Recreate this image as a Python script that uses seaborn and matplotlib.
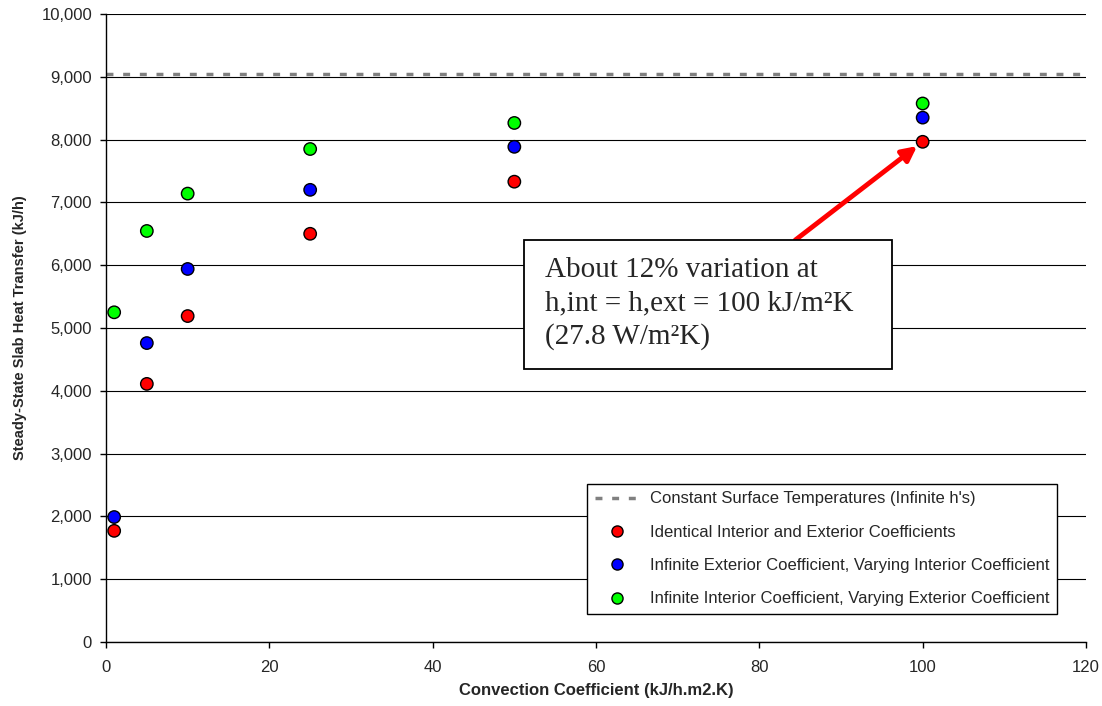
import numpy as np
import pandas as pd
import matplotlib
matplotlib.use('Agg')
import matplotlib.pyplot as plt
from matplotlib.lines import Line2D
from matplotlib.patches import Rectangle
from matplotlib.ticker import FuncFormatter
import seaborn as sns

# data
h_values = [1, 5, 10, 25, 50, 100]
identical = [1770, 4110, 5190, 6500, 7330, 7965]
inf_exterior = [1990, 4760, 5940, 7200, 7885, 8350]
inf_interior = [5250, 6545, 7140, 7850, 8265, 8575]
constant_surface = 9050

series_names = ['Identical Interior and Exterior Coefficients',
                'Infinite Exterior Coefficient, Varying Interior Coefficient',
                'Infinite Interior Coefficient, Varying Exterior Coefficient']
series_colors = ['#ff0000', '#0000ff', '#00ff00']

df = pd.DataFrame({
    'h': h_values * 3,
    'q': identical + inf_exterior + inf_interior,
    'series': np.repeat(series_names, len(h_values)),
})

sns.set_style('white')
plt.rcParams['font.family'] = ['Liberation Sans', 'DejaVu Sans']

fig = plt.figure(figsize=(11.02, 7.06), dpi=100)
ax = fig.add_axes([106 / 1102, 64 / 706, 980 / 1102, 628 / 706])

ax.set_xlim(0, 120)
ax.set_ylim(0, 10000)
ax.set_xticks(range(0, 121, 20))
ax.set_yticks(range(0, 10001, 1000))
ax.yaxis.set_major_formatter(FuncFormatter(lambda v, p: f'{int(v):,}'))
ax.grid(axis='y', color='black', linewidth=0.8)
ax.set_axisbelow(True)

dash = (0, (2.0, 2.8))
ax.axhline(constant_surface, color='#808080', linestyle=dash, linewidth=2.5, zorder=2)

sns.scatterplot(data=df, x='h', y='q', hue='series', palette=dict(zip(series_names, series_colors)),
                s=80, edgecolor='black', linewidth=1.0, legend=False, ax=ax, zorder=3)

for side in ['top', 'right']:
    ax.spines[side].set_visible(False)
for side in ['left', 'bottom']:
    ax.spines[side].set_color('black')
    ax.spines[side].set_linewidth(1.0)
ax.tick_params(axis='both', which='major', direction='out', length=4, width=1, color='black',
               labelsize=12, left=True, bottom=True)
ax.tick_params(axis='x', pad=9)
ax.tick_params(axis='y', pad=6)

ax.set_xlabel('Convection Coefficient (kJ/h.m2.K)', fontsize=12, fontweight='bold')
ax.set_ylabel('Steady-State Slab Heat Transfer (kJ/h)', fontsize=10.5, fontweight='bold')
ax.xaxis.set_label_coords(0.5, -0.066)
ax.yaxis.set_label_coords(-0.081, 0.5)

handles = [Line2D([], [], color='#808080', linestyle=dash, linewidth=2.5)]
for c in series_colors:
    handles.append(Line2D([], [], linestyle='none', marker='o', markersize=8,
                          markerfacecolor=c, markeredgecolor='black', markeredgewidth=1.0))
labels = ["Constant Surface Temperatures (Infinite h's)"] + series_names
leg = ax.legend(handles, labels, loc='lower right', bbox_to_anchor=(0.9704, 0.0446), fontsize=12,
                frameon=True, fancybox=False, shadow=False, edgecolor='black', framealpha=1,
                borderpad=0.45, labelspacing=1.1, handlelength=2.7, handletextpad=0.6,
                borderaxespad=0)
leg.get_frame().set_linewidth(1.0)

# annotation box and arrow
ax.annotate('', xy=(h_values[-1], identical[-1]), xytext=(84.4, 6400),
            arrowprops=dict(arrowstyle='-|>', color='red', lw=3.5, mutation_scale=22,
                            shrinkA=0, shrinkB=5), zorder=4)
ax.add_patch(Rectangle((0.4265, 0.4347), 0.3755, 0.2054, transform=ax.transAxes,
                       facecolor='white', edgecolor='black', linewidth=1.3, zorder=5))
ax.text(0.448, 0.613,
        'About 12% variation at\nh,int = h,ext = 100 kJ/m\u00b2K\n(27.8 W/m\u00b2K)',
        transform=ax.transAxes, fontsize=21, family=['Liberation Serif', 'DejaVu Serif'],
        va='top', ha='left', linespacing=1.35, zorder=6)

fig.savefig('out.png', dpi=100)
